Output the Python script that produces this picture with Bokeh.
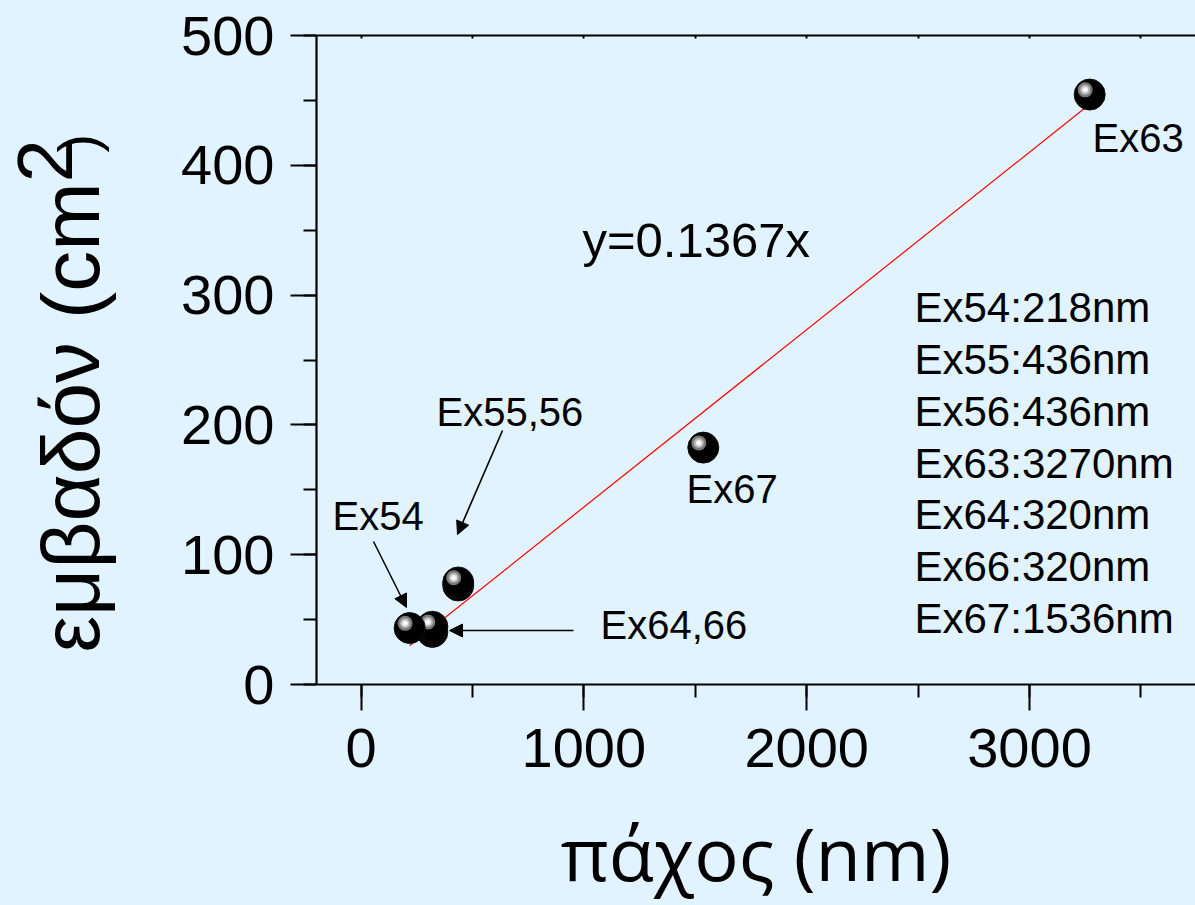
import math
from bokeh.plotting import figure
from bokeh.layouts import row
from bokeh.core.properties import value
from bokeh.models import (Range1d, SingleIntervalTicker, LinearAxis,
                          Arrow, NormalHead, ColumnDataSource)
from bokeh.embed import file_html
from bokeh.resources import INLINE

# ---------------- data ----------------
names = ["Ex66", "Ex64", "Ex54", "Ex56", "Ex55", "Ex67", "Ex63"]
thickness_nm = [320, 320, 218, 436, 436, 1536, 3270]
area_cm2 = [40.5, 44.5, 43.5, 76.3, 78.6, 182.5, 454.5]

fit_slope = 0.1367
fit_x = [218, 3270]
fit_y = [fit_slope * v for v in fit_x]
fit_text = "y=0.1367x"

x_ticks_major = 1000
y_ticks_major = 100
info_lines = ["Ex54:218nm", "Ex55:436nm", "Ex56:436nm", "Ex63:3270nm",
              "Ex64:320nm", "Ex66:320nm", "Ex67:1536nm"]
x_title = "πάχος (nm)"
y_title_parts = ["εμβαδόν (cm", "2", ")"]

# ---------------- layout ----------------
W, H = 1195, 905
LW = 150                      # width of the side panel holding the y title
FL, FR, FT, FB = 316, 1195, 35, 684
X0, X1 = -200, 3745
Y0, Y1 = 0, 500
BG = "#e1f3fe"
FONT = "Liberation Sans"
BASE_FIX = 0.37               # baseline correction (fraction of font size)


def dx(px):
    return X0 + (px - FL) * (X1 - X0) / (FR - FL)


def dy(py):
    return Y0 + (FB - py) * (Y1 - Y0) / (FB - FT)


ppx = (X1 - X0) / (FR - FL)
ppy = (Y1 - Y0) / (FB - FT)

# ---------- side panel with the y-axis title ----------
side = figure(width=LW, height=H, output_backend="svg", toolbar_location=None,
              x_range=Range1d(0, LW), y_range=Range1d(0, H),
              x_axis_location=None, y_axis_location=None,
              min_border_left=0, min_border_right=0, min_border_top=0, min_border_bottom=0,
              styles={"background-color": BG})
side.background_fill_color = BG
side.border_fill_color = BG
side.outline_line_color = None
side.grid.visible = False
YT_FS = 82
SUP_FS = 78
PAR_FS = 55
side.text(x=[100 - BASE_FIX * YT_FS], y=[H - 205], text=[y_title_parts[0]], angle=math.pi / 2,
          text_align="right", text_baseline="alphabetic",
          text_font=value(FONT), text_font_size="%dpx" % YT_FS, text_color="black")
side.text(x=[73 - BASE_FIX * SUP_FS], y=[H - 205], text=[y_title_parts[1]], angle=math.pi / 2,
          text_align="left", text_baseline="alphabetic",
          text_font=value(FONT), text_font_size="%dpx" % SUP_FS, text_color="black")
side.text(x=[98 - BASE_FIX * PAR_FS], y=[H - 163], text=[y_title_parts[2]], angle=math.pi / 2,
          text_align="left", text_baseline="alphabetic",
          text_font=value(FONT), text_font_size="%dpx" % PAR_FS, text_color="black")

# ---------- main plot ----------
p = figure(width=W - LW, height=H, output_backend="svg", toolbar_location=None,
           x_range=Range1d(X0, X1), y_range=Range1d(Y0, Y1),
           min_border_left=FL - LW, min_border_right=W - FR,
           min_border_top=FT, min_border_bottom=H - FB,
           styles={"background-color": BG})
p.background_fill_color = BG
p.border_fill_color = BG
p.outline_line_color = None
p.grid.visible = False

for ax in (p.xaxis[0], p.yaxis[0]):
    ax.axis_line_width = 2.2
    ax.axis_line_color = "black"
    ax.major_tick_line_width = 2
    ax.minor_tick_line_width = 2
    ax.major_tick_in = 0
    ax.major_tick_out = 26
    ax.minor_tick_in = 0
    ax.minor_tick_out = 13
    ax.major_label_text_font = FONT
    ax.major_label_text_font_size = "56px"
    ax.major_label_text_color = "black"

p.xaxis.ticker = SingleIntervalTicker(interval=x_ticks_major, num_minor_ticks=2)
p.yaxis.ticker = SingleIntervalTicker(interval=y_ticks_major, num_minor_ticks=2)
p.xaxis.major_label_standoff = 18
p.yaxis.major_label_standoff = 16

p.xaxis.axis_label = x_title
p.xaxis.axis_label_text_font = "Open Sans"
p.xaxis.axis_label_text_font_size = "74px"
p.xaxis.axis_label_text_font_style = "normal"
p.xaxis.axis_label_text_color = "black"
p.xaxis.axis_label_standoff = 32

top = LinearAxis(ticker=SingleIntervalTicker(interval=500, num_minor_ticks=0))
top.axis_line_width = 2.2
top.major_tick_in = 3
top.major_tick_out = 0
top.major_tick_line_width = 2
top.minor_tick_line_color = None
top.major_label_text_font_size = "0px"
top.major_label_standoff = 0
p.add_layout(top, "above")

# fit line
p.line(fit_x, fit_y, line_color="red", line_width=1.2)

# balls
for i in range(len(names)):
    xs, ys = [thickness_nm[i]], [area_cm2[i]]
    p.scatter(xs, ys, size=31, fill_color="black", line_color="#111111", line_width=1)
    hx = [thickness_nm[i] - 4.5 * ppx]
    hy = [area_cm2[i] + 4.7 * ppy]
    p.scatter(hx, hy, size=15, fill_color="#7a7a7a", line_color=None)
    p.scatter(hx, hy, size=10, fill_color="#b8b8b8", line_color=None)
    p.scatter(hx, hy, size=6, fill_color="#ececec", line_color=None)
    p.scatter(hx, hy, size=3, fill_color="white", line_color=None)

# annotation texts (positions in pixels of the reference, converted to data)
lab_text = ["Ex63", "Ex67", "Ex55,56", "Ex54", "Ex64,66", fit_text] + info_lines
lab_px = [1092, 686, 436, 332, 600, 582] + [914] * len(info_lines)
lab_py = [152, 503, 426, 530, 639, 258] + [323 + k * 51.7 for k in range(len(info_lines))]
lab_fs = [40, 40, 40, 40, 40, 49] + [42] * len(info_lines)
src = ColumnDataSource(dict(
    x=[dx(v) for v in lab_px],
    y=[dy(v - BASE_FIX * f) for v, f in zip(lab_py, lab_fs)],
    t=lab_text,
    fs=["%dpx" % f for f in lab_fs]))
p.text(x="x", y="y", text="t", source=src, text_font=value(FONT),
       text_font_size="fs", text_color="black",
       text_align="left", text_baseline="alphabetic")

# arrows
arrows_px = [((373, 541), (406, 607)), ((502, 430), (457, 534)), ((573, 630), (449, 630))]
for (sx0, sy0), (sx1, sy1) in arrows_px:
    p.add_layout(Arrow(end=NormalHead(size=13, fill_color="black", line_color="black", line_width=1),
                       x_start=dx(sx0), y_start=dy(sy0), x_end=dx(sx1), y_end=dy(sy1),
                       line_color="black", line_width=1.6))

layout = row(side, p, spacing=0, styles={"background-color": BG})
open("out.html", "w").write(file_html(layout, INLINE))
